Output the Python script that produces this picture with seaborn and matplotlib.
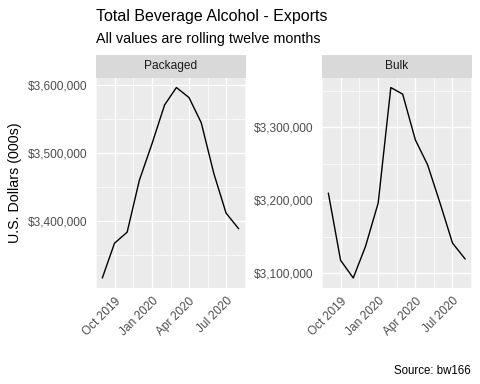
import numpy as np
import pandas as pd
import matplotlib
matplotlib.use("Agg")
import matplotlib.pyplot as plt
import matplotlib.dates as mdates
import matplotlib.transforms as mtrans
from matplotlib.patches import Rectangle
from matplotlib.ticker import FuncFormatter
import seaborn as sns

months = ["2019-09-01", "2019-10-01", "2019-11-01", "2019-12-01", "2020-01-01", "2020-02-01",
          "2020-03-01", "2020-04-01", "2020-05-01", "2020-06-01", "2020-07-01", "2020-08-01"]
packaged = [3316300, 3367500, 3383700, 3460100, 3513800, 3571000,
            3596600, 3581800, 3544800, 3470000, 3411800, 3388700]
bulk = [3209600, 3117400, 3093200, 3136500, 3195900, 3354300,
        3345200, 3282600, 3248400, 3195000, 3141100, 3119200]
facets = ["Packaged", "Bulk"]
x_tick_dates = ["2019-10-01", "2020-01-01", "2020-04-01", "2020-07-01"]
x_tick_labels = ["Oct 2019", "Jan 2020", "Apr 2020", "Jul 2020"]
y_ticks = {"Packaged": [3400000, 3500000, 3600000], "Bulk": [3100000, 3200000, 3300000]}

title = "Total Beverage Alcohol - Exports"
subtitle = "All values are rolling twelve months"
ylabel = "U.S. Dollars (000s)"
caption = "Source: bw166"

df = pd.DataFrame({
    "date": pd.to_datetime(months * 2),
    "value": packaged + bulk,
    "type": ["Packaged"] * len(months) + ["Bulk"] * len(months),
})

sns.set_style("white")
plt.rcParams["font.family"] = ["Liberation Sans", "DejaVu Sans"]

W, H = 480, 384
fig = plt.figure(figsize=(4.8, 3.84), dpi=100)

FS_TITLE = 11.5
FS_SUB = 10.3
FS_AXIS = 8.6
FS_CAP = 8.3

panels = {"Packaged": (95.5, 245.5), "Bulk": (321.5, 472.0)}
ptop, pbot = 78.0, 287.5
strip_top = 54.5

major_x = mdates.date2num(pd.to_datetime(x_tick_dates))
step = major_x[1] - major_x[0]
ext = np.concatenate([[major_x[0] - step], major_x, [major_x[-1] + step]])
minor_x = (ext[:-1] + ext[1:]) / 2

offset = mtrans.ScaledTranslation(2.5 / 100, -3.0 / 100, fig.dpi_scale_trans)

for name in facets:
    x0, x1 = panels[name]
    ax = fig.add_axes([x0 / W, 1 - pbot / H, (x1 - x0) / W, (pbot - ptop) / H])
    ax.set_facecolor("#EBEBEB")
    sub = df[df["type"] == name]
    sns.lineplot(data=sub, x="date", y="value", ax=ax, color="black", linewidth=1.0)
    dn = mdates.date2num(sub["date"])
    r = dn.max() - dn.min()
    v = sub["value"].to_numpy()
    rv = v.max() - v.min()

    yt = y_ticks[name]
    ymin_t = [yt[0] - 50000] + [(a + b) / 2 for a, b in zip(yt[:-1], yt[1:])] + [yt[-1] + 50000]
    ax.set_xticks(major_x)
    ax.set_xticks(minor_x, minor=True)
    ax.set_yticks(yt)
    ax.set_yticks(ymin_t, minor=True)
    ax.set_xlim(dn.min() - 0.05 * r, dn.max() + 0.05 * r)
    ax.set_ylim(v.min() - 0.05 * rv, v.max() + 0.05 * rv)
    ax.set_xticklabels(x_tick_labels, rotation=45, ha="right", va="top",
                       rotation_mode="anchor", fontsize=FS_AXIS, color="#4D4D4D")
    for lab in ax.get_xticklabels():
        lab.set_transform(lab.get_transform() + offset)
    ax.yaxis.set_major_formatter(FuncFormatter(lambda val, pos: "${:,.0f}".format(val)))
    for lab in ax.get_yticklabels():
        lab.set_fontsize(FS_AXIS)
        lab.set_color("#4D4D4D")
    ax.tick_params(axis="both", which="major", length=3.0, width=0.8,
                   color="#333333", pad=2.5)
    ax.tick_params(axis="both", which="minor", length=0)
    ax.grid(True, which="major", color="white", linewidth=1.0)
    ax.grid(True, which="minor", color="white", linewidth=0.5)
    ax.set_axisbelow(True)
    for s in ax.spines.values():
        s.set_visible(False)
    ax.set_xlabel("")
    ax.set_ylabel("")

    fig.patches.append(Rectangle((x0 / W, 1 - ptop / H), (x1 - x0) / W, (ptop - strip_top) / H,
                                 transform=fig.transFigure, facecolor="#D9D9D9",
                                 edgecolor="none", zorder=0))
    fig.text((x0 + x1) / 2 / W, 1 - (ptop + strip_top) / 2 / H, name, ha="center", va="center",
             fontsize=FS_AXIS, color="#1A1A1A")

fig.text(95.5 / W, 1 - 21 / H, title, ha="left", va="baseline", fontsize=FS_TITLE, color="black")
fig.text(95.5 / W, 1 - 43.5 / H, subtitle, ha="left", va="baseline", fontsize=FS_SUB, color="black")
fig.text(15 / W, 1 - (ptop + pbot) / 2 / H, ylabel, rotation=90, ha="center", va="center",
         fontsize=FS_SUB, color="black")
fig.text(470.5 / W, 1 - 374.5 / H, caption, ha="right", va="baseline", fontsize=FS_CAP, color="black")

fig.savefig("out.png", dpi=100, facecolor="white")
